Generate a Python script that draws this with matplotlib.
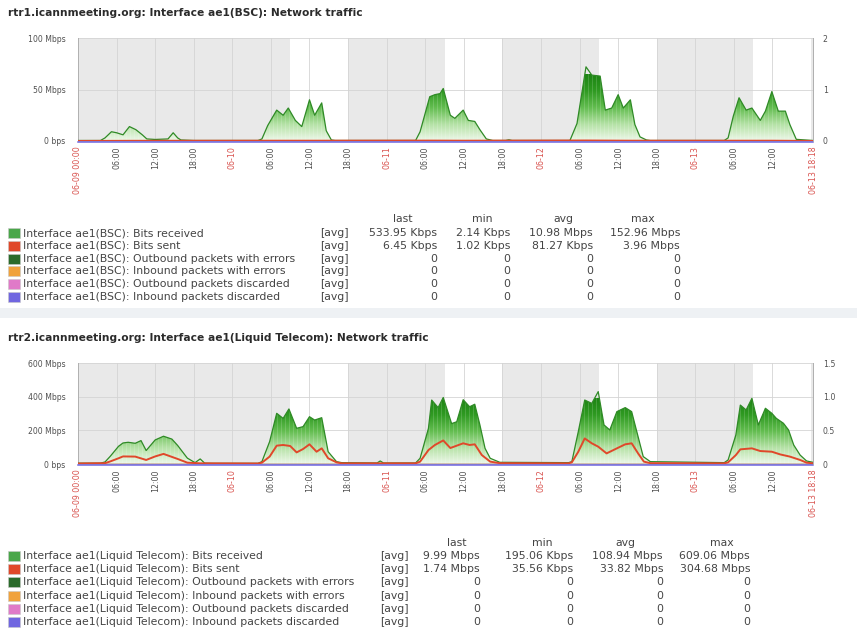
import numpy as np
import matplotlib
matplotlib.use("Agg")
import matplotlib.pyplot as plt
import matplotlib.transforms as mtransforms
from matplotlib.colors import LinearSegmentedColormap
from matplotlib.patches import Polygon, Rectangle

plt.rcParams['font.family'] = ['DejaVu Sans']

# ---------------- data ----------------
# hours since 06-09 00:00, values in Mbps
t1_recv = [0, 3.5, 4.2, 5.2, 6.0, 7.0, 8.0, 9.0, 10.0, 10.7, 12.0, 14.0, 14.8, 15.5, 16.0, 18.0,
           28.0, 28.6, 29.5, 30.9, 31.9, 32.7, 33.8, 34.8, 36.0, 36.8, 37.9, 38.6, 39.4, 40.0,
           52.5, 53.2, 54.7, 55.5, 56.3, 56.8, 57.9, 58.6, 59.9, 60.7, 61.7, 62.5, 63.5, 64.5,
           66.5, 67.0, 67.5,
           76.5, 77.6, 79.0, 79.9, 81.2, 82.0, 83.0, 84.0, 84.8, 85.9, 86.6, 87.4, 88.4, 89.0,
           100.5, 101.1, 101.9, 102.8, 103.9, 104.8, 106.1, 106.9, 107.9, 108.9, 110.0, 110.7, 111.7, 114.3]
v1_recv = [0.5, 0.5, 3, 9, 8, 6, 14, 11, 6, 2, 1.5, 2, 8, 3, 1, 0.5,
           0.5, 2, 15, 30, 25, 32, 20, 14, 40, 25, 37, 10, 1, 0.5,
           0.5, 9, 43, 45, 46, 51, 25, 22, 30, 20, 19, 11, 2, 0.5,
           0.5, 1.2, 0.5,
           0.5, 17, 72, 64, 63, 30, 32, 45, 32, 40, 16, 4, 1, 0.5,
           0.5, 3, 24, 42, 30, 32, 20, 29, 48, 29, 29, 16, 1.6, 0.5]
t1_sent = [0, 8, 30, 37, 55, 60, 79, 86, 103, 108, 114.3]
v1_sent = [0.05, 0.2, 0.3, 0.3, 0.4, 0.3, 0.5, 0.3, 0.3, 0.3, 0.05]

t2_recv = [0, 3.5, 4.2, 5.0, 6.3, 7.0, 7.8, 8.9, 9.8, 10.6, 12.0, 13.3, 14.6, 15.5, 17.0, 18.2, 19.0, 19.7, 21.0,
           28.0, 28.6, 29.8, 30.9, 31.9, 32.8, 34.0, 35.0, 36.0, 36.8, 37.9, 38.9, 40.2, 41.0, 46.5, 47.0, 47.5,
           52.5, 53.2, 54.5, 55.0, 56.0, 56.8, 58.1, 58.9, 59.9, 60.9, 61.7, 62.5, 63.3, 64.1, 65.6,
           76.3, 76.8, 77.8, 78.8, 79.9, 80.9, 81.8, 82.7, 83.8, 85.1, 86.1, 86.9, 87.9, 89.0,
           100.5, 101.1, 102.3, 103.0, 103.9, 104.8, 105.8, 106.9, 107.9, 108.6, 109.7, 110.5, 111.3, 112.3, 113.3, 114.3]
v2_recv = [5, 5, 12, 45, 105, 125, 129, 123, 139, 80, 143, 165, 148, 110, 35, 8, 30, 5, 4,
           4, 14, 133, 301, 271, 327, 212, 222, 281, 261, 275, 73, 14, 8, 6, 18, 6,
           6, 34, 212, 380, 335, 395, 240, 251, 382, 340, 355, 232, 93, 34, 10,
           8, 14, 192, 380, 360, 430, 232, 202, 311, 335, 311, 192, 44, 14,
           8, 24, 172, 350, 321, 390, 232, 331, 301, 271, 242, 202, 113, 53, 18, 10]
t2_sent = [0, 4.2, 5.0, 6.3, 7.0, 8.9, 10.6, 12.0, 13.3, 15.5, 17.0, 19.0,
           28.0, 28.6, 29.8, 30.9, 31.9, 33.0, 34.0, 35.0, 36.0, 37.1, 37.9, 38.9, 40.2, 41.0,
           52.5, 53.2, 54.5, 55.5, 56.8, 57.9, 59.9, 60.9, 61.7, 62.8, 64.1, 65.6,
           76.3, 76.8, 77.8, 78.8, 79.9, 80.9, 82.2, 83.8, 85.1, 86.1, 87.1, 88.0, 89.0,
           100.5, 101.1, 102.3, 103.0, 104.8, 106.1, 107.9, 109.2, 110.7, 112.3, 113.3, 114.3]
v2_sent = [3, 5, 15, 34, 45, 44, 24, 45, 60, 30, 8, 4,
           3, 8, 44, 109, 113, 107, 69, 89, 117, 73, 93, 34, 10, 4,
           4, 14, 83, 113, 140, 95, 123, 113, 117, 53, 14, 5,
           4, 10, 73, 152, 123, 103, 63, 93, 117, 123, 63, 14, 5,
           4, 10, 53, 87, 93, 77, 73, 57, 44, 24, 8, 4]

x_end = 114.3
tick_hours = [0, 6, 12, 18, 24, 30, 36, 42, 48, 54, 60, 66, 72, 78, 84, 90, 96, 102, 108, 114.3]
tick_labels = ["06-09 00:00", "06:00", "12:00", "18:00", "06-10", "06:00", "12:00", "18:00",
               "06-11", "06:00", "12:00", "18:00", "06-12", "06:00", "12:00", "18:00",
               "06-13", "06:00", "12:00", "06-13 18:18"]
work_days = [1, 2, 3, 4]
work_start, work_end = 9, 18

item_names = ["Bits received", "Bits sent", "Outbound packets with errors",
              "Inbound packets with errors", "Outbound packets discarded", "Inbound packets discarded"]
item_colors = ["#4aa64a", "#e0482a", "#2b6b2b", "#f0a23c", "#e07ac8", "#7066e0"]

g1_title = "rtr1.icannmeeting.org: Interface ae1(BSC): Network traffic"
g1_iface = "Interface ae1(BSC): "
g1_last = ["533.95 Kbps", "6.45 Kbps", "0", "0", "0", "0"]
g1_min = ["2.14 Kbps", "1.02 Kbps", "0", "0", "0", "0"]
g1_avg = ["10.98 Mbps", "81.27 Kbps", "0", "0", "0", "0"]
g1_max = ["152.96 Mbps", "3.96 Mbps", "0", "0", "0", "0"]
g1_yticks = [0, 50, 100]
g1_ylabels = ["0 bps", "50 Mbps", "100 Mbps"]
g1_rticks = [0, 1, 2]
g1_rlabels = ["0", "1", "2"]

g2_title = "rtr2.icannmeeting.org: Interface ae1(Liquid Telecom): Network traffic"
g2_iface = "Interface ae1(Liquid Telecom): "
g2_last = ["9.99 Mbps", "1.74 Mbps", "0", "0", "0", "0"]
g2_min = ["195.06 Kbps", "35.56 Kbps", "0", "0", "0", "0"]
g2_avg = ["108.94 Mbps", "33.82 Mbps", "0", "0", "0", "0"]
g2_max = ["609.06 Mbps", "304.68 Mbps", "0", "0", "0", "0"]
g2_yticks = [0, 200, 400, 600]
g2_ylabels = ["0 bps", "200 Mbps", "400 Mbps", "600 Mbps"]
g2_rticks = [0, 0.5, 1.0, 1.5]
g2_rlabels = ["0", "0.5", "1.0", "1.5"]

# ---------------- drawing ----------------
W, H = 857, 630
fig = plt.figure(figsize=(W / 100, H / 100), dpi=100)
fig.patch.set_facecolor("white")


def fx(x):
    return x / W


def fy(y):
    return 1 - y / H


grad_cmap = LinearSegmentedColormap.from_list(
    "g", ["#eef8ea", "#b5e2a6", "#63bd50", "#2f9a22", "#1c8412"])
GRAY_BG = "#e9e9e9"
GRID = "#d4d4d4"
RED_LBL = "#d9534f"
TXT = "#444444"
FS_LEG = 7.8


def draw_graph(top_px, bot_px, ymax, rmax, t_r, v_r, t_s, v_s,
               yticks, ylabels, rticks, rlabels, title, title_y):
    fig.text(fx(8), fy(title_y), title, fontsize=7.7, fontweight="bold", color="#2b2b2b",
             va="center", ha="left")
    ax = fig.add_axes([fx(78), fy(bot_px), fx(813 - 78), (bot_px - top_px) / H])
    ax.set_facecolor(GRAY_BG)
    for d in work_days:
        ax.axvspan(24 * d + work_start, min(24 * d + work_end, x_end), color="white", lw=0, zorder=0.5)
    for h in tick_hours[:-1]:
        ax.axvline(h, color=GRID, lw=0.6, zorder=0.8)
    for yv in yticks[1:-1]:
        ax.axhline(yv, color=GRID, lw=0.6, zorder=0.8)
    ax.axhline(ymax, color=GRID, lw=0.6, zorder=0.8)

    tr = np.asarray(t_r, float)
    vr = np.asarray(v_r, float)
    verts = [(tr[0], 0)] + list(zip(tr, vr)) + [(tr[-1], 0)]
    clip = Polygon(verts, closed=True, facecolor="none", edgecolor="none", transform=ax.transData)
    ax.add_patch(clip)
    grad = np.linspace(0, 1, 256).reshape(-1, 1)
    im = ax.imshow(grad, extent=[0, x_end, 0, vr.max() * 0.9], origin="lower", cmap=grad_cmap,
                   aspect="auto", zorder=2, interpolation="bilinear")
    im.set_clip_path(clip)
    # vertical column texture of the gradient fill
    stripes = ax.vlines(np.arange(0, x_end, 0.62), 0, vr.max(), color="white", lw=0.5,
                        alpha=0.22, zorder=2.5)
    stripes.set_clip_path(clip)
    ax.plot(tr, vr, color="#2f8a26", lw=0.9, zorder=3)
    for c in item_colors[2:5]:
        ax.plot([0, x_end], [0, 0], color=c, lw=1.0, zorder=3.5)
    ax.plot(t_s, v_s, color=item_colors[1], lw=1.4, zorder=4)
    # last item drawn just under the red line so both stay visible
    down = mtransforms.offset_copy(ax.transData, fig=fig, x=0, y=-1.2, units="dots")
    ax.plot([0, x_end], [0, 0], color=item_colors[5], lw=1.1, zorder=4.5,
            transform=down, clip_on=False)

    ax.set_xlim(0, x_end)
    ax.set_ylim(0, ymax)
    ax.set_yticks(yticks)
    ax.set_yticklabels(ylabels, fontsize=5.6, color="#505050")
    ax.set_xticks(tick_hours)
    ax.set_xticklabels(tick_labels, rotation=90, fontsize=5.7)
    for lbl, txt in zip(ax.get_xticklabels(), tick_labels):
        lbl.set_color(RED_LBL if txt.startswith("06-") else "#505050")
    ax.tick_params(axis="y", length=0, pad=9)
    ax.tick_params(axis="x", length=0, pad=4)
    ax.spines["top"].set_visible(False)
    for s in ["left", "right", "bottom"]:
        ax.spines[s].set_color("#b0b0b0")
        ax.spines[s].set_linewidth(0.7)

    ax2 = ax.twinx()
    ax2.set_ylim(0, rmax)
    ax2.set_yticks(rticks)
    ax2.set_yticklabels(rlabels, fontsize=5.6, color="#505050")
    ax2.tick_params(axis="y", length=0, pad=7)
    for s in ["top", "left", "bottom"]:
        ax2.spines[s].set_visible(False)
    ax2.spines["right"].set_color("#b0b0b0")
    ax2.spines["right"].set_linewidth(0.7)
    return ax


def draw_legend(y_header, y0, dy, iface, avg_x, col_right, col_center, last, mn, av, mx):
    heads = ["last", "min", "avg", "max"]
    for h, cx in zip(heads, col_center):
        fig.text(fx(cx), fy(y_header), h, fontsize=FS_LEG, color=TXT, ha="center", va="center")
    cols = [last, mn, av, mx]
    for i, (name, col) in enumerate(zip(item_names, item_colors)):
        y = y0 + dy * i
        fig.patches.append(Rectangle((fx(8), fy(y + 5)), fx(12), 10 / H, transform=fig.transFigure,
                                     facecolor=col, edgecolor="#c8c8c8", lw=0.4))
        fig.text(fx(23), fy(y), iface + name, fontsize=FS_LEG, color=TXT, ha="left", va="center")
        fig.text(fx(avg_x), fy(y), "[avg]", fontsize=FS_LEG, color=TXT, ha="left", va="center")
        for c, rx in zip(cols, col_right):
            fig.text(fx(rx), fy(y), c[i], fontsize=FS_LEG, color=TXT, ha="right", va="center")


draw_graph(38, 141, 100, 2, t1_recv, v1_recv, t1_sent, v1_sent,
           g1_yticks, g1_ylabels, g1_rticks, g1_rlabels, g1_title, 13)
draw_legend(219, 233, 12.8, g1_iface, 320, [437, 510, 593, 680], [403, 482, 563, 643],
            g1_last, g1_min, g1_avg, g1_max)

# separator band between the two graphs
fig.patches.append(Rectangle((0, fy(318)), 1, 10 / H, transform=fig.transFigure,
                             facecolor="#eef1f4", edgecolor="none"))

draw_graph(363, 464, 600, 1.5, t2_recv, v2_recv, t2_sent, v2_sent,
           g2_yticks, g2_ylabels, g2_rticks, g2_rlabels, g2_title, 338)
draw_legend(543, 556, 13.2, g2_iface, 380, [480, 573, 663, 750], [457, 542, 625, 722],
            g2_last, g2_min, g2_avg, g2_max)

fig.savefig("out.png", dpi=100)
